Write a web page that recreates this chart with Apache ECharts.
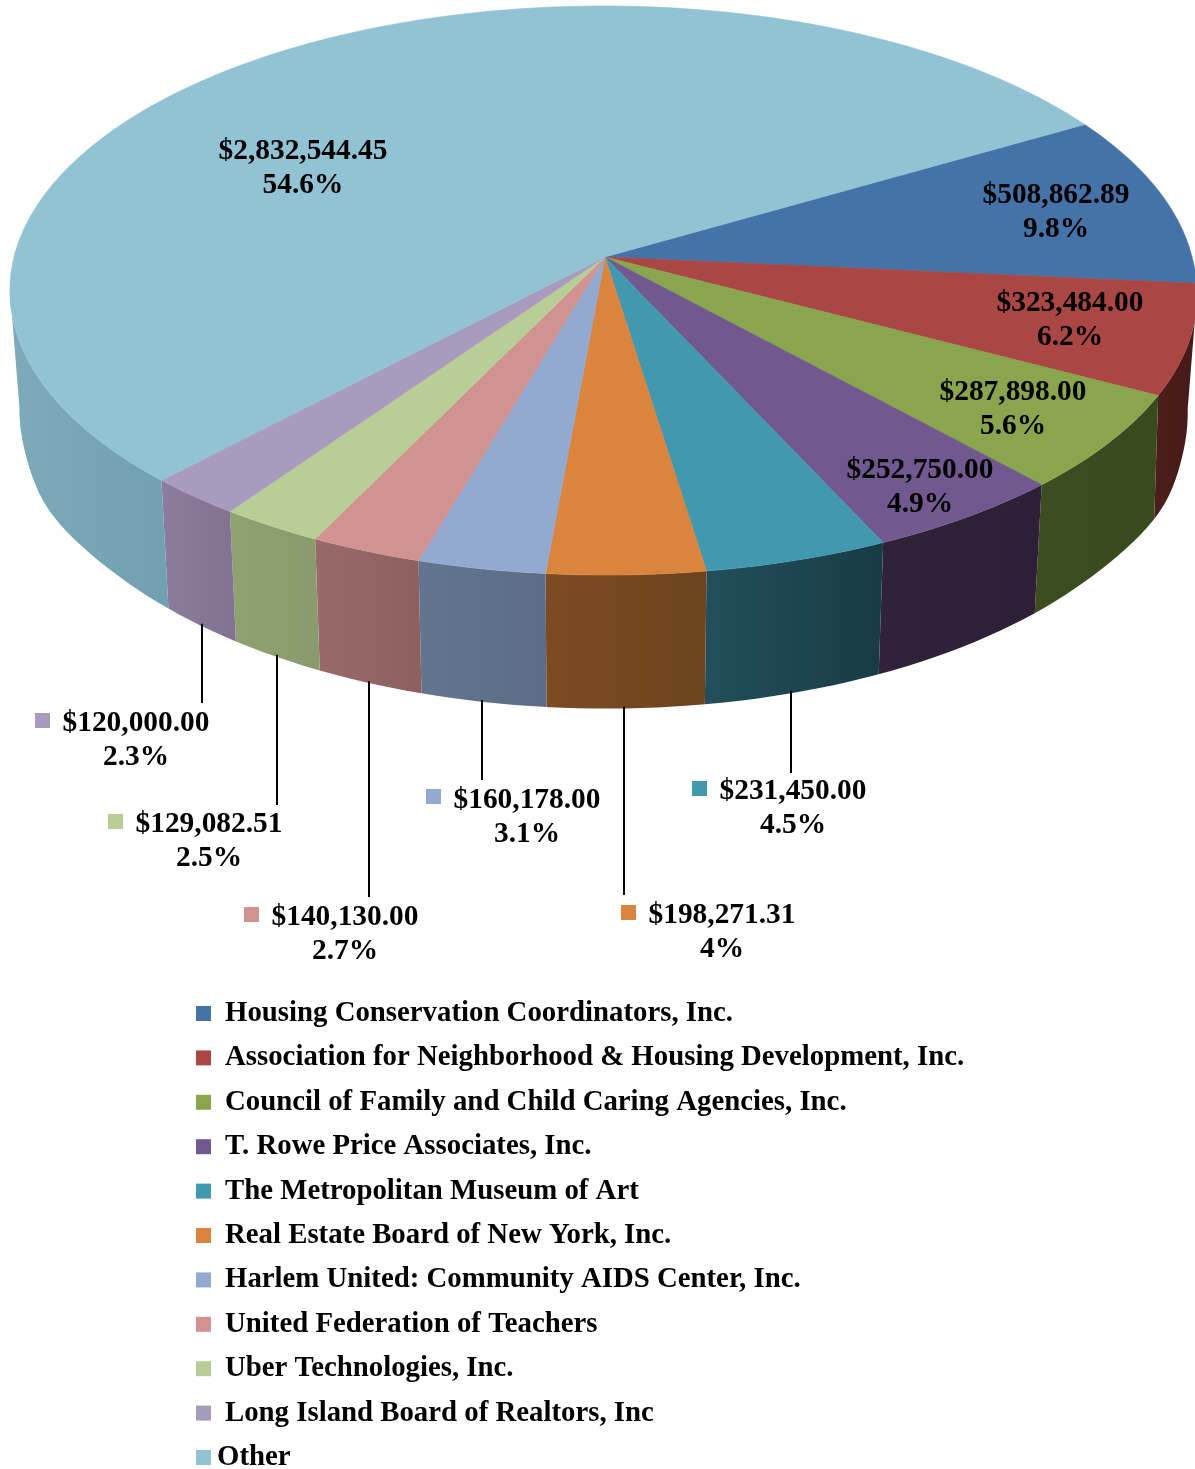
<!DOCTYPE html>
<html>
<head>
<meta charset="utf-8">
<style>html,body{margin:0;padding:0;background:#fff}#c{width:1195px;height:1469px}</style>
<script src="https://cdn.jsdelivr.net/npm/echarts@6/dist/echarts.min.js"></script>
</head>
<body>
<div id="c"></div>
<script>
const categories = [
  'Housing Conservation Coordinators, Inc.',
  'Association for Neighborhood & Housing Development, Inc.',
  'Council of Family and Child Caring Agencies, Inc.',
  'T. Rowe Price Associates, Inc.',
  'The Metropolitan Museum of Art',
  'Real Estate Board of New York, Inc.',
  'Harlem United: Community AIDS Center, Inc.',
  'United Federation of Teachers',
  'Uber Technologies, Inc.',
  'Long Island Board of Realtors, Inc',
  'Other'
];
const values = [508862.89, 323484.00, 287898.00, 252750.00, 231450.00, 198271.31, 160178.00, 140130.00, 129082.51, 120000.00, 2832544.45];
const valueLabels = ['$508,862.89','$323,484.00','$287,898.00','$252,750.00','$231,450.00','$198,271.31','$160,178.00','$140,130.00','$129,082.51','$120,000.00','$2,832,544.45'];
const percentLabels = ['9.8%','6.2%','5.6%','4.9%','4.5%','4%','3.1%','2.7%','2.5%','2.3%','54.6%'];

const topColors = ['#4572a7','#aa4643','#89a54e','#71588f','#4198af','#db843d','#93a9cf','#d19392','#b9cd96','#a99bbd','#91c3d5'];
const wallFrom = ['#3a5f8a','#4c1e1b','#3d4d20','#302339','#224f5b','#7c4b22','#62748f','#9a6a69','#90a172','#8b7d9b','#7eaaba'];
const wallTo   = ['#3a5f8a','#451a18','#394a1e','#2d2036','#183b46','#6e431f','#5d6d88','#8d5f5f','#8a9a6c','#807290','#70a0b2'];

// Layout of the text: centre of each label, leader end (null: label sits on the slice), key square.
const labelCenters = [[1056,212.5],[1070,320.5],[1013,409],[920,487.5],[793,808.5],[722,932.5],[527,817],[345,934.5],[209,841.5],[136,740.5],[303,168.5]];
const leaderEnds = [null,null,null,null,773,895,780,897,805,703,null];
const keySquares = [null,null,null,null,[692,781],[621,905],[426,789],[244,907],[108,814],[35,713],null];

const FONT = '"Liberation Serif","Times New Roman",serif';
const START_DEG = 60;
const P = {cx:603, apexX:605, cy:257, rx:589, ry:280.6, k:0.1178, sx:0.984, sy:1.055, by:373, skew:3.2, bulge:5};
const total = values.reduce((a,b)=>a+b,0);

function disc(deg){
  const t = deg*Math.PI/180;
  return {u:Math.sin(t), v:-Math.cos(t)};
}
// disc angle (deg clockwise from 12 o'clock) -> perspective position on the top face
function topPt(deg){
  const d = disc(deg), w = 1-P.k*d.v;
  const lens = P.skew*Math.max(0,d.v)*Math.pow(1+d.u,1.5);
  return [P.cx+P.rx*d.u/w+lens, P.cy+P.ry*d.v/w];
}
function botPt(deg){
  const p = topPt(deg), d = disc(deg);
  const g = (d.v-0.45)/0.13;
  const bulge = Math.sign(d.u)*P.bulge*Math.exp(-g*g);
  return [P.cx+P.sx*(p[0]-P.cx)+bulge, P.by+P.sy*(p[1]-P.cy)];
}
function leaderX(deg){
  const d = disc(deg), w = 1-P.k*d.v;
  return Math.round(P.apexX-0.5+P.sx*P.rx*d.u/w);
}
function steps(a0,a1){
  const n = Math.max(2,Math.ceil(Math.abs(a1-a0)/1.5)), out=[];
  for(let i=0;i<=n;i++) out.push(a0+(a1-a0)*i/n);
  return out;
}
const precedingShare = i => values.slice(0,i).reduce((a,b)=>a+b,0)/total;

function makeRender(i){
  return function(params, api){
    const share = api.value(0)/total;
    const a0 = START_DEG+precedingShare(i)*360, a1 = a0+share*360, mid=(a0+a1)/2;
    const angles = steps(a0,a1);
    const children = [];
    // Wall: front part only, ending where the rims' common tangent meets them.
    const front = angles.filter(a=>disc(a).v>0.1);
    if(front.length>1){
      const tops = front.map(topPt), bots = front.map(botPt);
      const xs = tops.concat(bots).map(p=>p[0]);
      const x0 = Math.min.apply(null,xs), x1 = Math.max.apply(null,xs);
      const fill = new echarts.graphic.LinearGradient(x0,0,x1,0,[{offset:0,color:wallFrom[i]},{offset:1,color:wallTo[i]}],true);
      children.push({type:'polygon',z2:1,shape:{points:tops.concat(bots.slice().reverse())},style:{fill:fill}});
    }
    children.push({type:'polygon',z2:10,shape:{points:[[P.apexX,P.cy]].concat(angles.map(topPt))},
      style:{fill:topColors[i],stroke:topColors[i],lineWidth:0.6}});
    if(leaderEnds[i]!==null){
      const x = leaderX(mid);
      children.push({type:'line',z2:20,shape:{x1:x,y1:botPt(mid)[1]-2,x2:x,y2:leaderEnds[i]},
        style:{stroke:'#000',lineWidth:2}});
    }
    if(keySquares[i]){
      children.push({type:'rect',z2:20,shape:{x:keySquares[i][0],y:keySquares[i][1],width:15,height:15},style:{fill:topColors[i]}});
    }
    children.push({type:'text',z2:30,x:labelCenters[i][0],y:labelCenters[i][1],
      style:{text:valueLabels[i]+'\n'+percentLabels[i],fill:'#000',align:'center',verticalAlign:'middle',
             font:'bold 29.4px '+FONT,lineHeight:34}});
    return {type:'group',children:children};
  };
}

const chart = echarts.init(document.getElementById('c'),null,{renderer:'canvas'});
const legendBase = {orient:'vertical',left:196,itemWidth:15,itemHeight:15,icon:'rect',selectedMode:false,padding:0,itemGap:9.4};
chart.setOption({
  animation:false,
  backgroundColor:'#fff',
  legend:[
    Object.assign({},legendBase,{top:996,data:categories.slice(0,10),
      textStyle:{fontFamily:FONT,fontWeight:'bold',fontSize:28.8,color:'#000',lineHeight:30,padding:[5,0,0,9]}}),
    Object.assign({},legendBase,{top:1440,data:categories.slice(10),
      textStyle:{fontFamily:FONT,fontWeight:'bold',fontSize:28.8,color:'#000',lineHeight:30,padding:[5,0,0,1]}})
  ],
  series:categories.map((name,i)=>({
    type:'custom',name:name,coordinateSystem:'none',silent:true,
    itemStyle:{color:topColors[i]},
    data:[[values[i]]],
    renderItem:makeRender(i)
  }))
});
</script>
</body>
</html>
